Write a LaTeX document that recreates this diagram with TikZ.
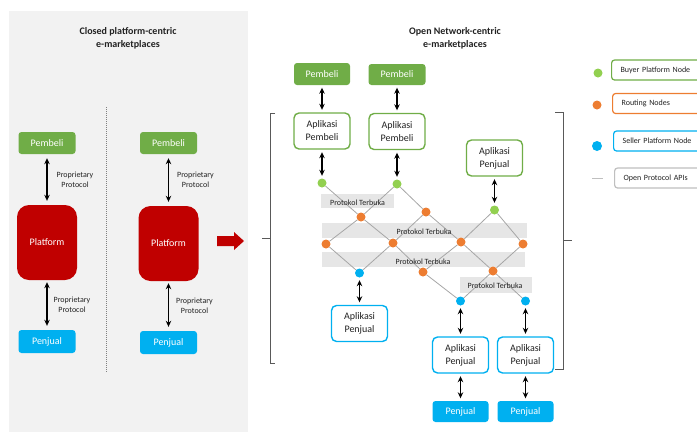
\documentclass[tikz,border=0pt]{standalone}
\usepackage{fontspec}
\setmainfont{Carlito}
\usepackage{xcolor}
\usetikzlibrary{arrows.meta}

\definecolor{buyergreen}{HTML}{70AD47}
\definecolor{dotgreen}{HTML}{92D050}
\definecolor{sellerblue}{HTML}{00B0F0}
\definecolor{platred}{HTML}{C00000}
\definecolor{routeorange}{HTML}{ED7D31}
\definecolor{panelgray}{HTML}{F2F2F2}
\definecolor{bandgray}{HTML}{E6E6E6}
\definecolor{linegray}{HTML}{A6A6A6}
\definecolor{legendgray}{HTML}{BFBFBF}
\definecolor{textdark}{HTML}{222222}
\definecolor{bracketgray}{HTML}{595959}

\begin{document}
\begin{tikzpicture}[x=1pt,y=1pt,yscale=-1,
  basebox/.style={rectangle, rounded corners=3pt, inner sep=0pt, align=center, font=\fontsize{10}{13}\selectfont},
  buyerbox/.style={basebox, fill=buyergreen, text=white, minimum width=57pt, minimum height=22pt},
  sellerbox/.style={basebox, fill=sellerblue, text=white, minimum width=57pt, minimum height=22pt},
  platbox/.style={basebox, fill=platred, text=white, rounded corners=12pt, minimum width=60pt, minimum height=75pt},
  appgreen/.style={basebox, draw=buyergreen, line width=1.4pt, fill=white, text=textdark, rounded corners=5pt, minimum width=56pt, minimum height=36pt},
  appblue/.style={appgreen, draw=sellerblue},
  biarrow/.style={{Stealth[length=6pt,width=5.5pt]}-{Stealth[length=6pt,width=5.5pt]}, line width=1.1pt, shorten <=2.5pt, shorten >=2.5pt},
  protolbl/.style={font=\fontsize{8}{10}\selectfont, align=center, text=textdark, inner sep=0pt},
  bandbox/.style={rectangle, fill=bandgray, inner sep=0pt},
  apiline/.style={draw=linegray, line width=0.8pt},
  netdot/.style={circle, inner sep=0pt, minimum size=9pt},
  legbox/.style={rectangle, rounded corners=3pt, anchor=west, line width=1.2pt, fill=white, text=textdark, font=\fontsize{8}{10}\selectfont, align=left, text width=80pt, inner xsep=9pt, minimum height=20pt},
  bracket/.style={draw=bracketgray, line width=1pt}
]

\useasboundingbox (0,0) rectangle (697,432);

\fill [panelgray] (9,11) rectangle (248,432);

\draw (128,38.5) node [align=center, font=\bfseries\fontsize{10}{13}\selectfont, text=textdark] (titleClosed) {Closed platform-centric\\e-marketplaces};

\draw (455,38.5) node [align=center, font=\bfseries\fontsize{10}{13}\selectfont, text=textdark] (titleOpen) {Open Network-centric\\e-marketplaces};

\draw [gray, line width=1pt, dash pattern=on 1pt off 1pt] (106,107) -- (106,372);

\draw (47,143) node [buyerbox] (pbA) {Pembeli};

\draw (47,242.5) node [platbox] (platA) {Platform};

\draw (47,341.5) node [sellerbox, minimum height=23pt] (pjA) {Penjual};

\draw (168.5,143) node [buyerbox] (pbB) {Pembeli};

\draw (168.5,243.5) node [platbox] (platB) {Platform};

\draw (168.5,342.5) node [sellerbox, minimum height=23pt] (pjB) {Penjual};

\draw [biarrow, shorten <=4pt, shorten >=4pt] (pbA) -- (platA);

\draw [biarrow, shorten <=2pt, shorten >=4pt] (platA) -- (pjA);

\draw [biarrow, shorten <=4pt, shorten >=4pt] (pbB) -- (platB);

\draw [biarrow, shorten <=2pt, shorten >=4pt] (platB) -- (pjB);

\draw (75,180) node [protolbl] (lblA1) {Proprietary\\Protocol};

\draw (72,305) node [protolbl] (lblA2) {Proprietary\\Protocol};

\draw (195.5,180) node [protolbl] (lblB1) {Proprietary\\Protocol};

\draw (194.5,306) node [protolbl] (lblB2) {Proprietary\\Protocol};

\fill [platred] (217,236) -- (234,236) -- (234,232) -- (244,241) -- (234,250) -- (234,246) -- (217,246) -- cycle;

\draw [bracket] (275,113) -- (270,113) -- (270,363) -- (275,363);

\draw [bracket] (270,238) -- (262,238);

\draw [bracket] (555,112) -- (563,112) -- (563,369) -- (555,369);

\draw [bracket] (563,240) -- (572,240);

\draw (357.5,201) node [bandbox, minimum width=73pt, minimum height=14pt] (band1) {};

\draw (424.5,230.5) node [bandbox, minimum width=205pt, minimum height=15pt] (band2) {};

\draw (423.5,259.5) node [bandbox, minimum width=203pt, minimum height=15pt] (band3) {};

\draw (495.5,285) node [bandbox, minimum width=72pt, minimum height=16pt] (band4) {};

\draw (322,183) node [netdot, fill=dotgreen] (g1) {};

\draw (397,184) node [netdot, fill=dotgreen] (g2) {};

\draw (494.5,210) node [netdot, fill=dotgreen] (g3) {};

\draw (361,217) node [netdot, fill=routeorange] (o1) {};

\draw (426,212) node [netdot, fill=routeorange] (o2) {};

\draw (326,244) node [netdot, fill=routeorange] (o3) {};

\draw (393,243) node [netdot, fill=routeorange] (o4) {};

\draw (461,242) node [netdot, fill=routeorange] (o5) {};

\draw (523,244) node [netdot, fill=routeorange] (o6) {};

\draw (423,272) node [netdot, fill=routeorange] (o7) {};

\draw (493,271) node [netdot, fill=routeorange] (o8) {};

\draw (359.5,273) node [netdot, fill=sellerblue] (b1) {};

\draw (460.5,301) node [netdot, fill=sellerblue] (b2) {};

\draw (525.5,301) node [netdot, fill=sellerblue] (b3) {};

\draw [apiline] (g1) -- (o1) (g2) -- (o1) (g2) -- (o2) (g3) -- (o5) (g3) -- (o6)
  (o1) -- (o3) (o1) -- (o4) (o2) -- (o4) (o2) -- (o5)
  (o3) -- (b1) (o4) -- (b1) (o4) -- (o7) (o5) -- (o7) (o5) -- (o8) (o6) -- (o8)
  (o7) -- (b2) (o8) -- (b2) (o8) -- (b3);

\draw (357.5,202.5) node [protolbl] (proto1) {Protokol Terbuka};

\draw (424,232) node [protolbl] (proto2) {Protokol Terbuka};

\draw (423,261.5) node [protolbl] (proto3) {Protokol Terbuka};

\draw (495,286) node [protolbl] (proto4) {Protokol Terbuka};

\draw (322,74) node [buyerbox, minimum width=56pt] (tp1) {Pembeli};

\draw (397,74.5) node [buyerbox, minimum height=21pt] (tp2) {Pembeli};

\draw (322,131) node [appgreen] (ap1) {Aplikasi\\Pembeli};

\draw (397,131.5) node [appgreen] (ap2) {Aplikasi\\Pembeli};

\draw (494.5,158) node [appgreen] (apj0) {Aplikasi\\Penjual};

\draw (359.5,323.5) node [appblue] (apjb1) {Aplikasi\\Penjual};

\draw (460.5,355) node [appblue] (apjb2) {Aplikasi\\Penjual};

\draw (525.5,355) node [appblue] (apjb3) {Aplikasi\\Penjual};

\draw (460.5,411.5) node [sellerbox, minimum width=56pt, minimum height=21pt] (pjr1) {Penjual};

\draw (525.5,411.5) node [sellerbox, minimum width=56pt, minimum height=21pt] (pjr2) {Penjual};

\draw [biarrow] (tp1) -- (ap1);

\draw [biarrow] (tp2) -- (ap2);

\draw [biarrow] (ap1) -- (g1);

\draw [biarrow] (ap2) -- (g2);

\draw [biarrow] (apj0) -- (g3);

\draw [biarrow] (b1) -- (apjb1);

\draw [biarrow] (b2) -- (apjb2);

\draw [biarrow] (b3) -- (apjb3);

\draw [biarrow] (apjb2) -- (pjr1);

\draw [biarrow] (apjb3) -- (pjr2);

\draw (598,73) node [netdot, fill=dotgreen] (legG) {};

\draw (611,70) node [legbox, draw=buyergreen] (legBuyer) {Buyer Platform Node};

\draw (597,105) node [netdot, fill=routeorange] (legO) {};

\draw (612,103.5) node [legbox, draw=routeorange] (legRoute) {Routing Nodes};

\draw (597,146) node [netdot, minimum size=10pt, fill=sellerblue] (legB) {};

\draw (613,141) node [legbox, draw=sellerblue] (legSeller) {Seller Platform Node};

\draw [draw=legendgray, line width=1pt] (592,178) -- (603,178);

\draw (614,178) node [legbox, draw=legendgray] (legApi) {Open Protocol APIs};

\end{tikzpicture}
\end{document}
